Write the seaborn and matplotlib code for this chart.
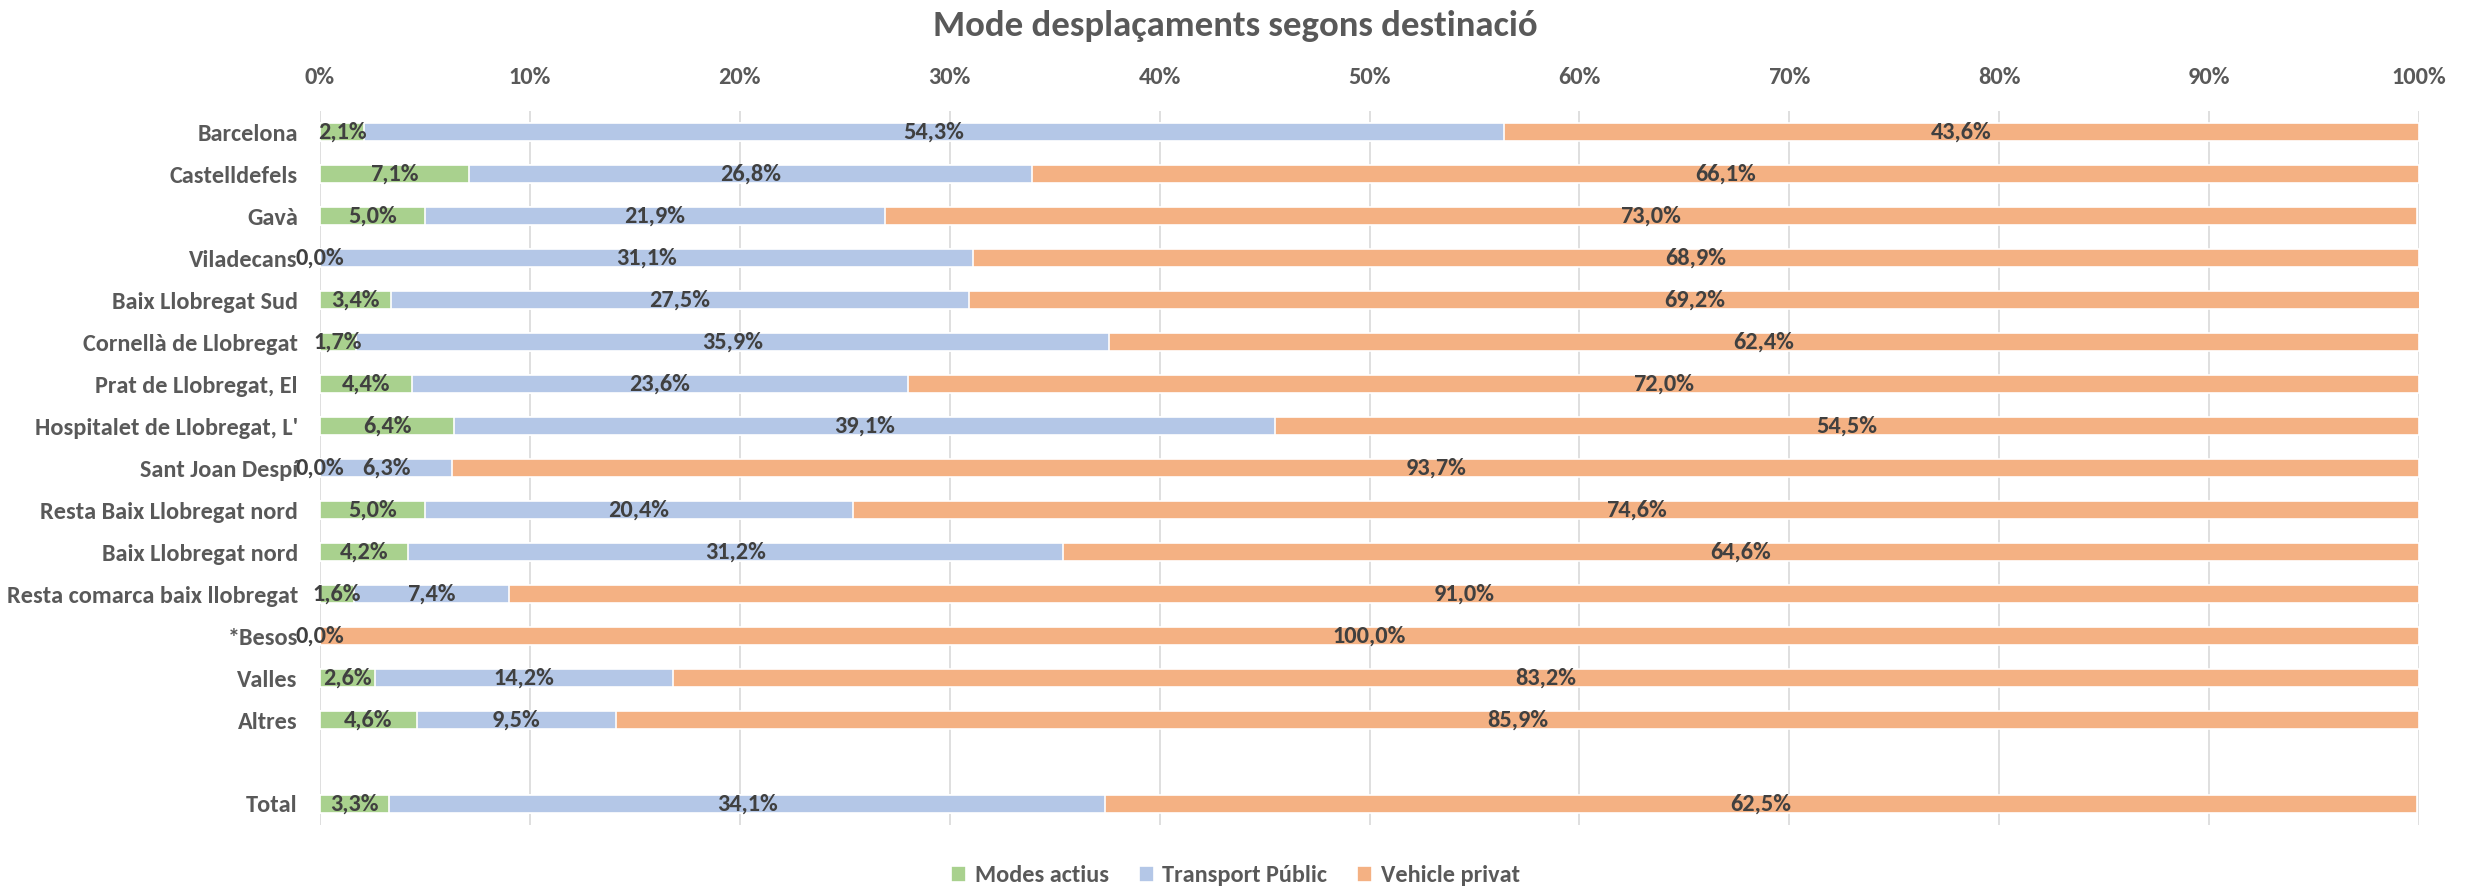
import matplotlib
matplotlib.use("Agg")
import matplotlib.pyplot as plt
import seaborn as sns
import pandas as pd
import numpy as np

# Destinations (top to bottom); "" leaves an empty row before the total
destinations = [
    "Barcelona", "Castelldefels", "Gavà", "Viladecans", "Baix Llobregat Sud",
    "Cornellà de Llobregat", "Prat de Llobregat, El", "Hospitalet de Llobregat, L'",
    "Sant Joan Despí", "Resta Baix Llobregat nord", "Baix Llobregat nord",
    "Resta comarca baix llobregat", "*Besos", "Valles", "Altres", "Total",
]
row_order = destinations[:-1] + [""] + destinations[-1:]

modes_actius = [2.1, 7.1, 5.0, 0.0, 3.4, 1.7, 4.4, 6.4, 0.0, 5.0, 4.2, 1.6, 0.0, 2.6, 4.6, 3.3]
transport_public = [54.3, 26.8, 21.9, 31.1, 27.5, 35.9, 23.6, 39.1, 6.3, 20.4, 31.2, 7.4, 0.0, 14.2, 9.5, 34.1]
vehicle_privat = [43.6, 66.1, 73.0, 68.9, 69.2, 62.4, 72.0, 54.5, 93.7, 74.6, 64.6, 91.0, 100.0, 83.2, 85.9, 62.5]

series_names = ["Modes actius", "Transport Públic", "Vehicle privat"]
colors = ["#A9D18E", "#B4C7E7", "#F4B183"]

df = pd.DataFrame({
    "dest": destinations,
    "a": modes_actius,
    "t": transport_public,
    "v": vehicle_privat,
})
df["cum_a"] = df["a"]
df["cum_t"] = df["a"] + df["t"]
df["cum_v"] = df["a"] + df["t"] + df["v"]

sns.set_theme(style="white")
plt.rcParams["font.family"] = ["Carlito", "Lato", "DejaVu Sans"]
plt.rcParams["font.weight"] = "bold"

FS = 17.5

fig = plt.figure(figsize=(24.71, 8.89), dpi=100)
ax = fig.add_axes([0.1295, 0.072, 0.8495, 0.803])

bar_h = 0.42
# Stack by drawing cumulative totals from back to front
for col, color, name in zip(["cum_v", "cum_t", "cum_a"], colors[::-1], series_names[::-1]):
    sns.barplot(data=df, x=col, y="dest", order=row_order, color=color,
                width=bar_h, edgecolor="white", linewidth=1.2, ax=ax,
                saturation=1, errorbar=None, label=name, zorder=2)

# Data labels centred in each segment
pos = {d: row_order.index(d) for d in destinations}
for _, r in df.iterrows():
    y = pos[r["dest"]]
    segs = [(0.0, r["a"]), (r["a"], r["t"]), (r["a"] + r["t"], r["v"])]
    for k, (start, val) in enumerate(segs):
        if k == 1 and val == 0 and r["a"] == 0:
            continue
        txt = f"{val:.1f}%".replace(".", ",")
        ax.text(start + val / 2, y, txt, ha="center", va="center",
                fontsize=FS, fontweight="bold", color="#404040", zorder=5)

ax.set_xlim(0, 100)
ax.set_ylim(len(row_order) - 0.5, -0.5)
ax.set_xticks(np.arange(0, 101, 10))
ax.set_xticklabels([f"{v}%" for v in range(0, 101, 10)])
ax.xaxis.tick_top()
ax.tick_params(axis="x", length=0, pad=17, labelsize=FS, labelcolor="#595959")
ax.tick_params(axis="y", length=0, pad=16, labelsize=FS, labelcolor="#595959")
for lab in ax.get_xticklabels() + ax.get_yticklabels():
    lab.set_fontweight("bold")
ax.set_xlabel("")
ax.set_ylabel("")
ax.grid(axis="x", color="#D9D9D9", linewidth=1.2, zorder=0)
ax.grid(axis="y", visible=False)
ax.set_axisbelow(True)
for s in ax.spines.values():
    s.set_visible(False)

handles, labels = ax.get_legend_handles_labels()
hl = dict(zip(labels, handles))
ax.legend([hl[n] for n in series_names], series_names, loc="center",
          bbox_to_anchor=(0.5, 13 / 889), bbox_transform=fig.transFigure,
          ncol=3, frameon=False, handlelength=0.6, handleheight=0.6,
          handletextpad=0.35, columnspacing=1.25,
          labelcolor="#595959", prop={"weight": "bold", "size": FS})

fig.text(0.5, 1 - 26 / 889, "Mode desplaçaments segons destinació", ha="center",
         va="center", fontsize=26.5, fontweight="bold", color="#595959")

fig.savefig("out.png", dpi=100)
